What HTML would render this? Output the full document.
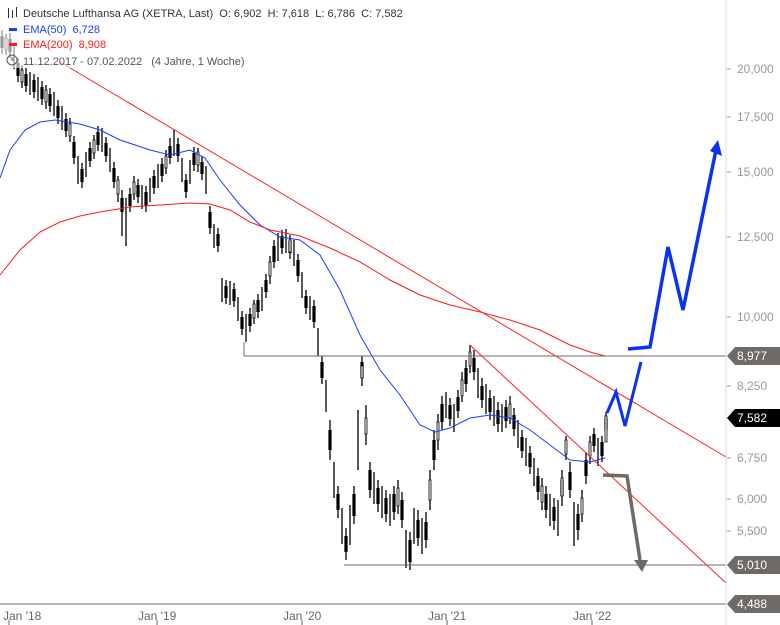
<!DOCTYPE html>
<html><head><meta charset="utf-8"><style>
html,body{margin:0;padding:0;background:#fff;}
svg{display:block;font-family:"Liberation Sans",sans-serif;}
text{white-space:pre;}
</style></head><body>
<svg width="780" height="625" viewBox="0 0 780 625" xmlns="http://www.w3.org/2000/svg">
<rect width="780" height="625" fill="#fff"/>
<path fill="none" stroke="#000" stroke-width="1.3" d="M2 30V54M6 34V55M10 33V58M14 45V69M18 58V82M22 65V88M26 68V92M30 72V95M34 74V98M38 77V101M42 81V105M46 85V109M50 88V112M54 92V116M58 100V124M62 106V130M66 113V137M70 118V142M74 136V164M78 156V184M82 163V188M86 152V177M90 142V167M94 135V159M98 126V151M102 128V152M106 137V162M110 148V172M114 162V188M118 176V202M122 190V236M126 198V246M130 188V212M134 176V200M138 179V203M142 185V209M146 186V212M150 178V202M154 170V194M158 164V188M162 158V182M166 150V174M170 138V164M174 130V156M178 138V162M182 158V182M186 174V198M190 160V184M194 147V171M198 148V172M202 156V180M206 166V194M210 206V234M214 224V248M218 228V252M222 278V302M226 280V304M230 281V305M234 283V307M238 297V321M242 311V335M246 314V342M250 308V332M254 300V324M258 294V318M262 287V311M266 274V298M270 256V284M274 240V268M278 233V261M282 230V254M286 229V253M290 235V259M294 240V266M298 254V282M302 272V298M306 290V314M310 296V320M314 300V328M318 328V356M322 356V384M326 380V412M330 420V460M334 462V498M338 486V518M342 508V544M346 528V560M350 505V545M354 486V524M358 410V470M362 356V386M366 405V445M370 462V498M374 472V504M378 480V512M382 486V518M386 490V522M390 494V526M394 486V520M398 480V514M402 492V528M406 530V568M410 532V570M414 508V544M418 510V546M422 518V554M426 512V548M430 470V510M434 430V470M438 414V450M442 396V430M446 392V418M450 398V426M454 404V432M458 390V418M462 372V402M466 360V392M470 345V373M474 350V380M478 368V398M482 378V408M486 384V414M490 390V420M494 396V426M498 402V432M502 404V432M506 400V428M510 396V424M514 408V436M518 420V448M522 430V458M526 438V466M530 446V474M534 458V486M538 468V500M542 478V510M546 486V518M550 494V526M554 498V530M558 500V536M562 470V506M566 436V460M570 462V498M574 502V546M578 504V540M582 490V522M586 452V484M590 436V464M594 428V452M598 438V466M602 436V462M606 412V436"/>
<path fill="none" stroke="#000" stroke-width="3.2" d="M2 36V48M10 39V52M18 63V76M26 74V86M34 80V92M42 87V99M50 94V106M58 106V118M66 119V131M74 142V158M82 169V182M90 148V161M98 132V145M106 143V156M114 168V182M122 198V212M130 194V206M138 185V197M146 192V206M154 176V188M162 164V176M170 146V158M178 144V156M186 180V192M194 153V165M202 162V174M210 212V228M218 234V246M226 286V298M234 289V301M242 317V329M250 314V326M258 300V312M266 280V292M274 246V262M282 236V248M290 241V253M298 260V276M306 296V308M314 306V322M322 362V378M330 430V450M338 494V510M346 536V552M354 494V516M362 362V378M370 470V490M378 488V504M386 498V514M394 494V512M402 500V520M410 540V562M418 520V538M426 522V540M434 440V460M442 404V422M450 405V419M458 397V411M466 368V384M474 358V372M482 386V400M490 398V412M498 410V424M506 407V421M514 415V429M522 437V451M530 453V467M538 476V492M546 494V510M554 507V521M562 480V496M570 472V490M578 514V530M586 460V476M594 434V446M602 442V456M606 418V430"/>
<path fill="#fff" stroke="#000" stroke-width="0.8" d="M5 38h2v12h-2zM21 70h2v12h-2zM45 90h2v12h-2zM69 124h2v12h-2zM93 140h2v13h-2zM117 180h2v14h-2zM133 182h2v12h-2zM165 156h2v12h-2zM197 152h2v13h-2zM253 304h2v14h-2zM269 262h2v14h-2zM289 240h2v12h-2zM361 366h2v12h-2zM365 418h2v16h-2zM397 488h2v18h-2zM429 480h2v20h-2zM437 422h2v18h-2zM461 380h2v16h-2zM469 352h2v14h-2zM509 404h2v14h-2zM541 486h2v16h-2zM561 478h2v18h-2zM565 440h2v14h-2zM581 498h2v16h-2zM589 442h2v14h-2zM605 416h2v26h-2z"/>
<polyline fill="none" stroke="#1a3cff" stroke-width="1" points="0,178 10,150 25,130 40,122 55,120 80,124 100,130 120,140 150,150 170,155 190,150 205,158 220,180 240,205 260,225 280,237 300,240 320,255 340,290 360,335 380,370 400,395 420,425 435,432 450,428 470,418 490,415 510,418 530,430 550,445 570,460 590,462 605,458"/>
<polyline fill="none" stroke="#ff1a1a" stroke-width="1" points="0,275 20,250 40,232 60,222 80,216 100,212 130,207 160,205 190,203 210,204 230,210 250,222 270,230 300,236 330,248 360,262 390,280 420,295 450,305 480,312 510,320 540,330 570,345 590,352 605,356"/>
<line x1="60" y1="62" x2="726" y2="457" stroke="#ff2020" stroke-width="1"/>
<line x1="470" y1="345" x2="726" y2="583" stroke="#ff2020" stroke-width="1"/>
<line x1="244" y1="356" x2="726" y2="356" stroke="#6f6a66" stroke-width="1"/>
<line x1="244" y1="342" x2="244" y2="356" stroke="#6f6a66" stroke-width="1"/>
<line x1="344" y1="565" x2="726" y2="565" stroke="#6f6a66" stroke-width="1"/>
<line x1="0" y1="604" x2="726" y2="604" stroke="#6f6a66" stroke-width="1"/>
<line x1="726" y1="0" x2="726" y2="625" stroke="#ddd" stroke-width="1"/>
<polyline points="628,349 650,347 668,247 683,310 716,150" fill="none" stroke="#0a32f0" stroke-width="3.5"/>
<polygon points="718,140 722,156 710,151" fill="#0a32f0"/>
<polyline points="607,413 616,392 625,426 641,362" fill="none" stroke="#0a32f0" stroke-width="3"/>
<polyline points="603,475 627,476 640,560" fill="none" stroke="#6f6a66" stroke-width="3.5"/>
<polygon points="634,560 648,560 642,572" fill="#6f6a66"/>
<g font-size="12" fill="#999">
<text x="737" y="73">20,000</text><line x1="727" y1="69" x2="731" y2="69" stroke="#999"/>
<text x="737" y="121">17,500</text><line x1="727" y1="117" x2="731" y2="117" stroke="#999"/>
<text x="737" y="176">15,000</text><line x1="727" y1="172" x2="731" y2="172" stroke="#999"/>
<text x="737" y="241">12,500</text><line x1="727" y1="237" x2="731" y2="237" stroke="#999"/>
<text x="737" y="321">10,000</text><line x1="727" y1="317" x2="731" y2="317" stroke="#999"/>
<text x="737" y="390">8,250</text><line x1="727" y1="386" x2="731" y2="386" stroke="#999"/>
<text x="737" y="462">6,750</text><line x1="727" y1="458" x2="731" y2="458" stroke="#999"/>
<text x="737" y="503">6,000</text><line x1="727" y1="499" x2="731" y2="499" stroke="#999"/>
<text x="737" y="535">5,500</text><line x1="727" y1="531" x2="731" y2="531" stroke="#999"/>
</g>
<g font-size="12" fill="#fff">
<polygon points="727,356 735,347 780,347 780,365 735,365" fill="#6f6a66"/><text x="737" y="360">8,977</text>
<polygon points="727,418 735,409 780,409 780,427 735,427" fill="#000"/><text x="737" y="422">7,582</text>
<polygon points="727,565 735,556 780,556 780,574 735,574" fill="#6f6a66"/><text x="737" y="569">5,010</text>
<polygon points="727,604 735,595 780,595 780,613 735,613" fill="#6f6a66"/><text x="737" y="608">4,488</text>
</g>
<g font-size="12" fill="#666">
<text x="3" y="620">Jan '18</text><line x1="9" y1="620" x2="9" y2="625" stroke="#666"/>
<text x="138" y="620">Jan '19</text><line x1="157" y1="620" x2="157" y2="625" stroke="#666"/>
<text x="283" y="620">Jan '20</text><line x1="302" y1="620" x2="302" y2="625" stroke="#666"/>
<text x="428" y="620">Jan '21</text><line x1="447" y1="620" x2="447" y2="625" stroke="#666"/>
<text x="573" y="620">Jan '22</text><line x1="592" y1="620" x2="592" y2="625" stroke="#666"/>
</g>
<g font-size="11">
<rect x="0" y="4" width="250" height="64" fill="#fff" opacity="0.6"/>
<rect x="8" y="8" width="1" height="10" fill="#333"/><rect x="12" y="10" width="1" height="8" fill="#333"/><rect x="16" y="7" width="1" height="10" fill="#333"/>
<text x="23" y="17" fill="#333">Deutsche Lufthansa AG (XETRA, Last)  O: 6,902  H: 7,618  L: 6,786  C: 7,582</text>
<rect x="9" y="28" width="8" height="3" fill="#1a3cff"/>
<text x="23" y="33" fill="#1a3cff">EMA(50)  6,728</text>
<rect x="9" y="43" width="8" height="3" fill="#ff1a1a"/>
<text x="23" y="48" fill="#ff1a1a">EMA(200)  8,908</text>
<circle cx="12" cy="60" r="5" fill="none" stroke="#555"/><path d="M12 57 V60 H14" stroke="#555" fill="none"/>
<text x="23" y="65" fill="#555">11.12.2017 - 07.02.2022   (4 Jahre, 1 Woche)</text>
</g>
</svg>
</body></html>
